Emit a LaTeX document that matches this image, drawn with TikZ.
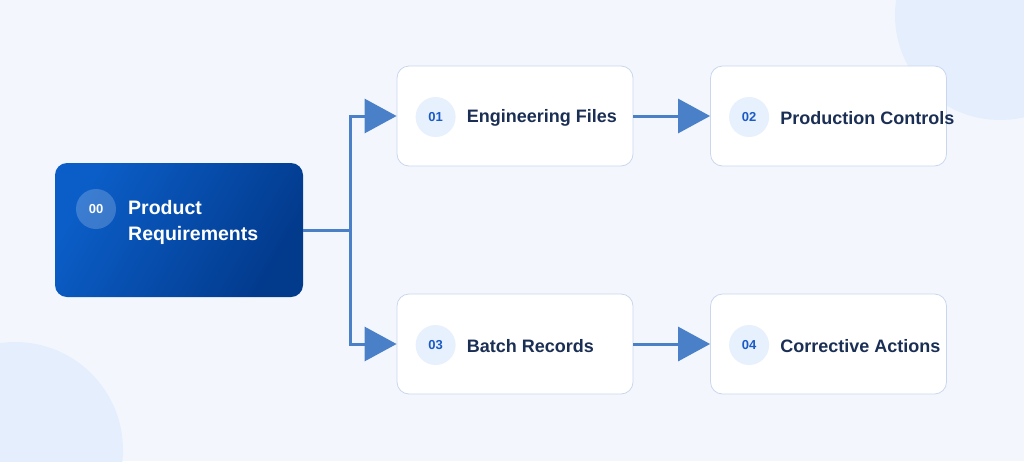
\documentclass[tikz,border=0pt]{standalone}
\usepackage{fontspec}
\setmainfont{Liberation Sans}
\usetikzlibrary{arrows.meta}
\definecolor{bg}{HTML}{F3F7FD}
\definecolor{blob}{HTML}{E4EEFC}
\definecolor{line}{HTML}{4A80C8}
\definecolor{bord}{HTML}{C9D7EE}
\definecolor{navy}{HTML}{1B2F55}
\definecolor{numc}{HTML}{1A5BC4}
\definecolor{numbg}{HTML}{E7F0FD}
\tikzset{
 box/.style={draw=bord,line width=0.8pt,fill=white,rounded corners=12pt,minimum width=236pt,minimum height=100pt,inner sep=0pt},
 num/.style={circle,fill=numbg,minimum size=40pt,inner sep=0pt,font=\bfseries\fontsize{13}{13}\selectfont,text=numc},
 lab/.style={anchor=west,font=\bfseries\fontsize{18}{18}\selectfont,text=navy,inner sep=0pt},
 conn/.style={draw=line,line width=3pt,-{Triangle[length=32pt,width=34pt]}}
}
\begin{document}
\begin{tikzpicture}[x=1pt,y=-1pt]
\useasboundingbox (0,0) rectangle (1024,461);
\fill[bg] (0,0) rectangle (1024,461);
\clip (0,0) rectangle (1024,461);
\fill[blob] (1000,15) circle (105);
\fill[blob] (15,450) circle (108);
\shade[rounded corners=12pt,left color={rgb,255:red,11;green,94;blue,200},right color={rgb,255:red,2;green,58;blue,140},shading angle=60] (55,163) rectangle (303,297);
\node[minimum width=248pt,minimum height=134pt,inner sep=0pt] (m) at (179,230) {};
\fill[white,opacity=0.2] (96,209) circle (20);
\node[font=\bfseries\fontsize{13}{13}\selectfont,text=white] (m0) at (96,209) {00};
\node[anchor=west,align=left,text=white,font=\bfseries\fontsize{19.5}{26}\selectfont,inner sep=0pt] (mt) at (128,222) {Product\\Requirements};
\node[box] (b1) at (515,116) {};
\node[box] (b2) at (828.5,116) {};
\node[box] (b3) at (515,344) {};
\node[box] (b4) at (828.5,344) {};
\foreach \b/\n/\t in {b1/01/Engineering Files,b2/02/Production Controls,b3/03/Batch Records,b4/04/Corrective Actions}{
 \node[num] (\b n) at ([xshift=39pt,yshift=-1pt]\b.west) {\n};
 \node[lab] (\b t) at ([xshift=70pt,yshift=-2pt]\b.west) {\t};
}
\coordinate (br) at (350,230);
\draw[line,line width=3pt] (m.east) -- (br);
\draw[conn] (br) |- (b1.west);
\draw[conn] (br) |- (b3.west);
\draw[conn] (b1.east) -- (b2.west);
\draw[conn] (b3.east) -- (b4.west);
\end{tikzpicture}
\end{document}
